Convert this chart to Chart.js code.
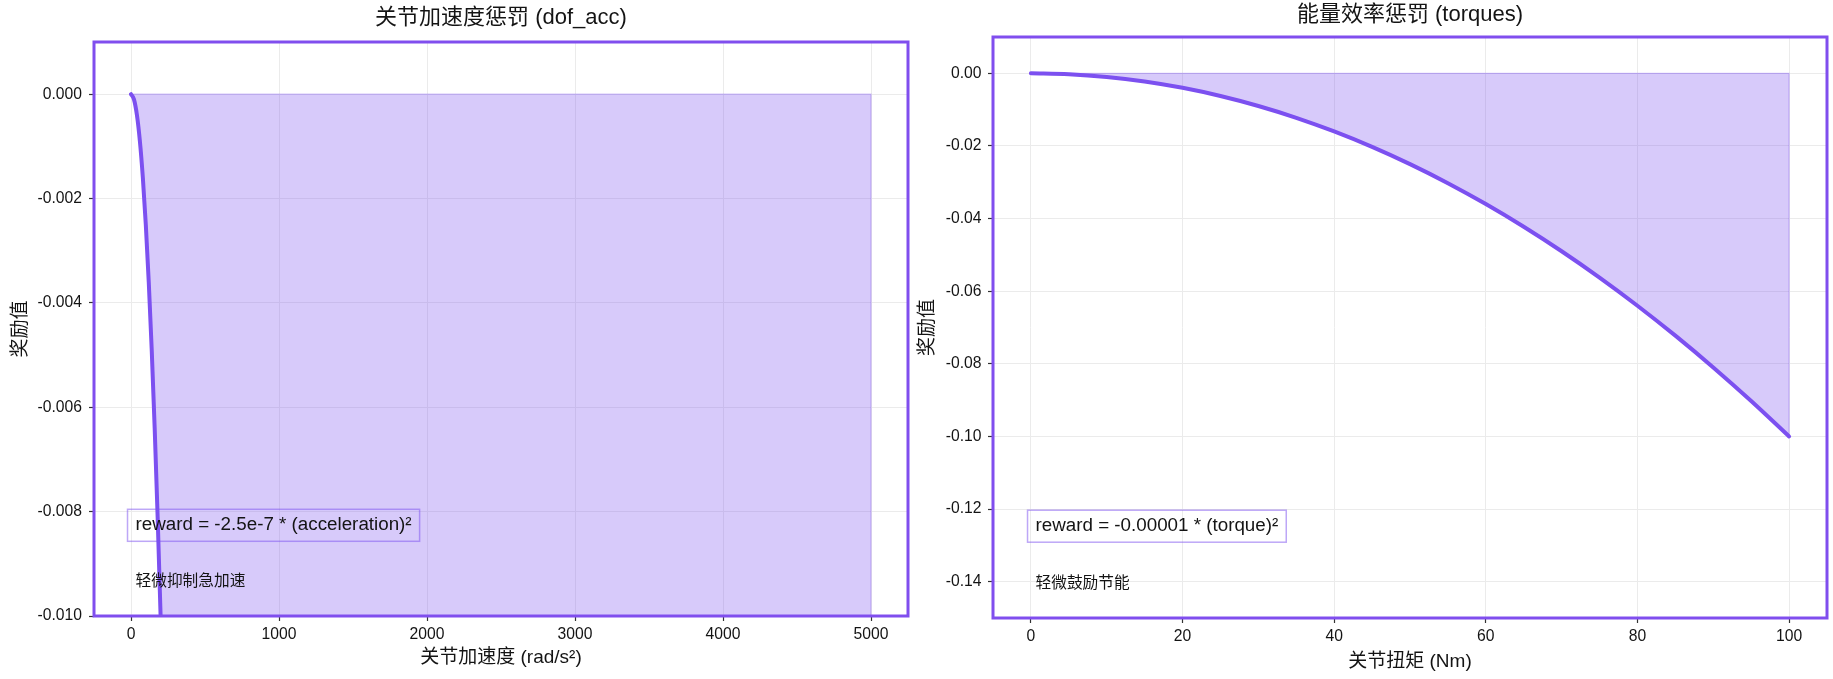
<!DOCTYPE html>
<html><head><meta charset="utf-8">
<script src="https://cdn.jsdelivr.net/npm/chart.js@4.4.0/dist/chart.umd.min.js"></script>
<style>
html,body{margin:0;padding:0;background:#fff;}
#w1{position:absolute;left:0;top:0;width:913px;height:679px;}
#w2{position:absolute;left:913px;top:0;width:920px;height:679px;}
</style></head><body>
<div id="w1"><canvas id="c1" width="913" height="679"></canvas></div>
<div id="w2"><canvas id="c2" width="920" height="679"></canvas></div>
<script>
// ---- data: joint acceleration penalty ----
const accX = [0, 20, 40, 60, 80, 100, 120, 140, 160, 180, 200, 250, 300, 400, 500, 1000, 1500, 2000, 2500, 3000, 3500, 4000, 4500, 5000];
const accReward = [0, -0.0001, -0.0004, -0.0009, -0.0016, -0.0025, -0.0036, -0.0049, -0.0064, -0.0081, -0.01, -0.015625, -0.0225, -0.04, -0.0625, -0.25, -0.5625, -1, -1.5625, -2.25, -3.0625, -4, -5.0625, -6.25];
const accXTicks = [0, 1000, 2000, 3000, 4000, 5000];
const accYTicks = [-0.010, -0.008, -0.006, -0.004, -0.002, 0.000];

// ---- data: torque penalty ----
const torqueX = [0, 5, 10, 15, 20, 25, 30, 35, 40, 45, 50, 55, 60, 65, 70, 75, 80, 85, 90, 95, 100];
const torqueReward = [0, -0.00025, -0.001, -0.00225, -0.004, -0.00625, -0.009, -0.01225, -0.016, -0.02025, -0.025, -0.03025, -0.036, -0.04225, -0.049, -0.05625, -0.064, -0.07225, -0.081, -0.09025, -0.1];
const torqueXTicks = [0, 20, 40, 60, 80, 100];
const torqueYTicks = [-0.14, -0.12, -0.10, -0.08, -0.06, -0.04, -0.02, 0.00];

const FF = "'Liberation Sans', Arial, 'Noto Sans CJK SC', sans-serif";
const LINE = 'rgb(124,80,240)';
const FILL = 'rgba(124,80,240,0.30)';
const EDGE = 'rgba(124,80,240,0.32)';
const FRAME = 'rgb(128,78,238)';
const BOXEDGE = 'rgba(124,80,240,0.5)';
const TXT = '#141414';

const panelDecor = {
  id: 'panelDecor',
  afterDatasetsDraw(chart, args, o) {
    const {ctx, chartArea: a} = chart;
    const w = a.right - a.left, h = a.bottom - a.top;
    ctx.save();
    const tx = a.left + 0.051 * w;
    ctx.textBaseline = 'middle'; ctx.textAlign = 'left'; ctx.fillStyle = TXT;
    ctx.font = '18.8px ' + FF;
    const fy = a.bottom - 0.158 * h;
    const tw = ctx.measureText(o.formula).width;
    ctx.strokeStyle = BOXEDGE; ctx.lineWidth = 1.5;
    ctx.strokeRect(tx - 8, fy - 16, tw + 16, 32);
    ctx.fillText(o.formula, tx, fy);
    ctx.font = '15.7px ' + FF;
    ctx.fillText(o.note, tx, a.bottom - 0.059 * h);
    ctx.strokeStyle = FRAME; ctx.lineWidth = 3;
    ctx.strokeRect(a.left, a.top, w, h);
    ctx.restore();
  }
};

function makeChart(id, P) {
  const pts = P.xs.map((x, i) => ({x: x, y: P.ys[i]}));
  const n = P.xs.length - 1;
  const edge = [{x: P.xs[0], y: 0}, {x: P.xs[n], y: 0}, {x: P.xs[n], y: P.ys[n]}];
  const tickFont = {size: 15.7, family: FF};
  return new Chart(document.getElementById(id), {
    type: 'scatter',
    data: {datasets: [
      {data: pts, showLine: true, borderColor: LINE, borderWidth: 4, backgroundColor: FILL,
       fill: 'origin', pointRadius: 0, cubicInterpolationMode: 'monotone', borderCapStyle: 'round', borderJoinStyle: 'round'},
      {data: edge, showLine: true, borderColor: EDGE, borderWidth: 1.3, fill: false, pointRadius: 0}
    ]},
    options: {
      responsive: false, animation: false, devicePixelRatio: 1,
      layout: {padding: {left: 0, right: P.padRight, top: 0, bottom: 0}},
      plugins: {
        legend: {display: false}, tooltip: {enabled: false},
        title: {display: true, text: P.title, fullSize: false, color: TXT,
                font: {size: 22, family: FF, weight: 'normal'},
                padding: {top: P.titleTop, bottom: P.titleBottom}},
        panelDecor: {formula: P.formula, note: P.note}
      },
      scales: {
        x: {type: 'linear', min: P.xMin, max: P.xMax,
            afterBuildTicks: s => { s.ticks = P.xTicks.map(v => ({value: v})); },
            afterFit: s => { s.height = P.xH; },
            ticks: {font: tickFont, color: TXT, padding: 4.6, maxRotation: 0, autoSkip: false,
                    callback: v => String(v)},
            grid: {color: '#ebebeb', lineWidth: 1, tickColor: '#333', tickLength: 5, tickWidth: 1.2},
            border: {display: false},
            title: {display: true, text: P.xLabel, color: TXT, font: {size: 19, family: FF},
                    padding: {top: 0, bottom: P.xTitlePad}}},
        y: {type: 'linear', min: P.yMin, max: P.yMax,
            afterBuildTicks: s => { s.ticks = P.yTicks.map(v => ({value: v})); },
            afterFit: s => { s.width = P.yW; },
            ticks: {font: tickFont, color: TXT, padding: P.yTickPad, autoSkip: false,
                    callback: v => v.toFixed(P.dec)},
            grid: {color: '#ebebeb', lineWidth: 1, tickColor: '#333', tickLength: 5, tickWidth: 1.2},
            border: {display: false},
            title: {display: true, text: '奖励值', color: TXT, font: {size: 19, family: FF},
                    padding: {top: P.yTitlePad, bottom: 0}}}
      }
    },
    plugins: [panelDecor]
  });
}

makeChart('c1', {
  xs: accX, ys: accReward, xTicks: accXTicks, yTicks: accYTicks,
  xMin: -250, xMax: 5250, yMin: -0.010, yMax: 0.001, dec: 3,
  title: '关节加速度惩罚 (dof_acc)', xLabel: '关节加速度 (rad/s²)',
  formula: 'reward = -2.5e-7 * (acceleration)²', note: '轻微抑制急加速',
  padRight: 5, titleTop: 4.6, titleBottom: 11, xH: 63, xTitlePad: 9.6,
  yW: 94, yTickPad: 7, yTitlePad: 9.6
});
makeChart('c2', {
  xs: torqueX, ys: torqueReward, xTicks: torqueXTicks, yTicks: torqueYTicks,
  xMin: -5, xMax: 105, yMin: -0.15, yMax: 0.01, dec: 2,
  title: '能量效率惩罚 (torques)', xLabel: '关节扭矩 (Nm)',
  formula: 'reward = -0.00001 * (torque)²', note: '轻微鼓励节能',
  padRight: 6, titleTop: 1.3, titleBottom: 9.3, xH: 61, xTitlePad: 5.6,
  yW: 80, yTickPad: 6.5, yTitlePad: 3.6
});
</script>
</body></html>
